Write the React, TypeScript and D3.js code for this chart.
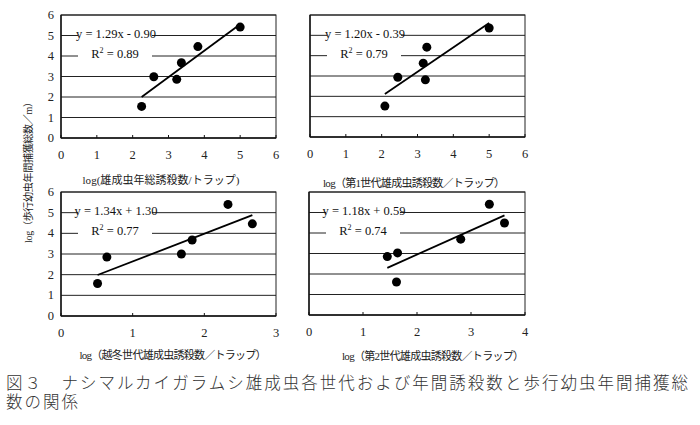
import React from "react";
import * as d3 from "d3";

// ---- data ----
const p1X = [2.25, 2.59, 3.23, 3.36, 3.82, 5.0];
const p1Y = [1.54, 2.99, 2.86, 3.67, 4.46, 5.41];
const p2X = [2.09, 2.45, 3.16, 3.22, 3.26, 5.0];
const p2Y = [1.52, 2.94, 3.63, 2.81, 4.42, 5.36];
const p3X = [0.51, 0.64, 1.68, 1.83, 2.33, 2.67];
const p3Y = [1.57, 2.85, 3.0, 3.68, 5.4, 4.46];
const p4X = [1.45, 1.64, 1.62, 2.81, 3.34, 3.62];
const p4Y = [2.85, 3.03, 1.61, 3.7, 5.4, 4.49];

const slopes = [1.29, 1.2, 1.34, 1.18];
const intercepts = [-0.9, -0.39, 1.3, 0.59];
const eqLabels = ["y = 1.29x - 0.90", "y = 1.20x - 0.39", "y = 1.34x + 1.30", "y = 1.18x + 0.59"];
const r2Values = ["0.89", "0.79", "0.77", "0.74"];
const xMaxes = [6, 6, 3, 4];
const xTitles = [
  "log(雄成虫年総誘殺数/トラップ)",
  "log（第1世代雄成虫誘殺数／トラップ）",
  "log（越冬世代雄成虫誘殺数／トラップ）",
  "log（第2世代雄成虫誘殺数／トラップ）",
];
const yTicks = [0, 1, 2, 3, 4, 5, 6];
const yTitle = "log（歩行幼虫年間捕獲総数／m）";
const captionLine1 = "図３　ナシマルカイガラムシ雄成虫各世代および年間誘殺数と歩行幼虫年間捕獲総";
const captionLine2 = "数の関係";

const xsList = [p1X, p2X, p3X, p4X];
const ysList = [p1Y, p2Y, p3Y, p4Y];

// ---- layout ----
const W = 700;
const H = 425;
const LATIN = "'Liberation Serif', 'Times New Roman', serif";
const FONT = "'Liberation Serif', 'Times New Roman', 'Noto Sans CJK JP', serif";
const panelLayout = [
  { left: 61, top: 15, width: 215, height: 123, showY: true, titleX: 161, titleY: 184, titleLen: 157 },
  { left: 310, top: 15, width: 215, height: 122, showY: false, titleX: 414, titleY: 187, titleLen: 182 },
  { left: 61, top: 192, width: 215, height: 124, showY: true, titleX: 173, titleY: 359, titleLen: 187 },
  { left: 309, top: 192, width: 216, height: 123, showY: false, titleX: 433, titleY: 360, titleLen: 182 },
];

function Panel({ i }: { i: number }) {
  const L = panelLayout[i];
  const x = d3.scaleLinear().domain([0, xMaxes[i]]).range([L.left, L.left + L.width]);
  const y = d3.scaleLinear().domain([0, 6]).range([L.top + L.height, L.top]);
  const xs = xsList[i];
  const ys = ysList[i];
  const x0 = d3.min(xs) as number;
  const x1 = d3.max(xs) as number;
  const line = d3
    .line<number>()
    .x((d) => x(d))
    .y((d) => y(slopes[i] * d + intercepts[i]));
  const xTicks = d3.range(0, xMaxes[i] + 1);
  const cx = L.left + 54;
  return (
    <g>
      {yTicks.slice(1).map((t) => (
        <line key={t} x1={L.left} x2={L.left + L.width} y1={y(t)} y2={y(t)} stroke="#222" strokeWidth={1} />
      ))}
      <rect x={L.left} y={L.top} width={L.width} height={L.height} fill="none" stroke="#222" strokeWidth={1} />
      <line x1={L.left} x2={L.left + L.width} y1={y(0)} y2={y(0)} stroke="#111" strokeWidth={1.6} />
      <line x1={L.left} x2={L.left} y1={y(0)} y2={y(6)} stroke="#111" strokeWidth={1.4} />
      {xTicks.map((t) => (
        <g key={t}>
          <line x1={x(t)} x2={x(t)} y1={y(0)} y2={y(0) - 3} stroke="#111" strokeWidth={1} />
          <text x={x(t)} y={y(0) + 21} textAnchor="middle" fontSize={12.5} fontFamily={LATIN} fill="#222">
            {t}
          </text>
        </g>
      ))}
      {L.showY &&
        yTicks.map((t) => (
          <text key={t} x={54} y={y(t) + 4} textAnchor="end" fontSize={12.5} fontFamily={LATIN} fill="#222">
            {t}
          </text>
        ))}
      <rect x={cx - 37} y={L.top + 11} width={74} height={36} fill="#fff" />
      <text x={cx + 1} y={L.top + 23} textAnchor="middle" fontSize={12.5} fontFamily={LATIN} fill="#111">
        {eqLabels[i]}
      </text>
      <text x={cx} y={L.top + 43} textAnchor="middle" fontSize={12.5} fontFamily={LATIN} fill="#111">
        R<tspan dy={-5} fontSize={8}>2</tspan>
        <tspan dy={5}> = {r2Values[i]}</tspan>
      </text>
      <path d={line([x0, x1]) || ""} stroke="#000" strokeWidth={1.8} fill="none" />
      {xs.map((v, k) => (
        <circle key={k} cx={x(v)} cy={y(ys[k])} r={4.5} fill="#000" />
      ))}
      <text
        x={L.titleX}
        y={L.titleY}
        textAnchor="middle"
        fontSize={11}
        fontFamily={FONT}
        fill="#222"
        textLength={L.titleLen}
        lengthAdjust="spacing"
      >
        {xTitles[i]}
      </text>
    </g>
  );
}

export default function App() {
  return (
    <svg width={W} height={H} style={{ position: "absolute", left: 0, top: 0, background: "#fff" }}>
      <rect width={W} height={H} fill="#fff" />
      {[0, 1, 2, 3].map((i) => (
        <Panel key={i} i={i} />
      ))}
      <text
        transform="translate(32,170) rotate(-90)"
        textAnchor="middle"
        fontSize={10}
        fontFamily={FONT}
        fill="#222"
        textLength={146}
        lengthAdjust="spacing"
      >
        {yTitle}
      </text>
      <text
        x={6}
        y={389}
        fontSize={16.5}
        fontWeight={300}
        fontFamily={FONT}
        fill="#333"
        textLength={682}
        lengthAdjust="spacing"
      >
        {captionLine1}
      </text>
      <text x={6} y={408} fontSize={16.5} fontWeight={300} fontFamily={FONT} fill="#333" letterSpacing={2}>
        {captionLine2}
      </text>
    </svg>
  );
}
